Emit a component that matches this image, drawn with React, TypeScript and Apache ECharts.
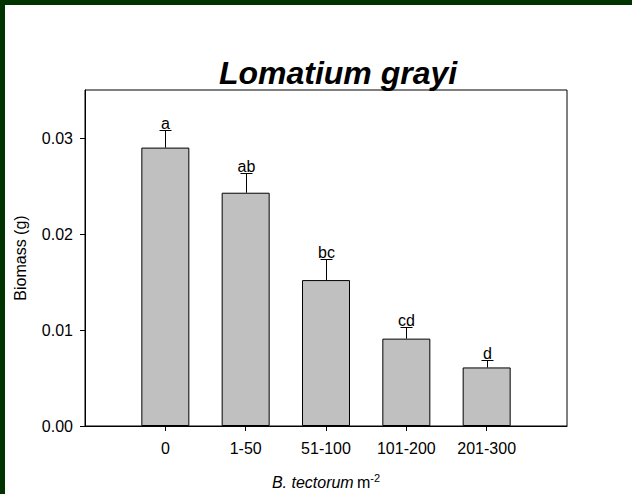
import React, { useEffect, useRef } from "react";
import * as echarts from "echarts";

const categories = [" ", "0", "1-50", "51-100", "101-200", "201-300", "  "];
const means = [0.029, 0.0243, 0.0152, 0.0091, 0.0061];
const errors = [0.0018, 0.0021, 0.0022, 0.0012, 0.0008];
const letters = ["a", "ab", "bc", "cd", "d"];
const yTicks = [0, 0.01, 0.02, 0.03];

const FONT = "Liberation Sans, Arial, sans-serif";

export default function App() {
  const ref = useRef<HTMLDivElement>(null);
  useEffect(() => {
    if (!ref.current) return;
    const chart = echarts.init(ref.current, undefined, { renderer: "svg" });
    const barData = ["-", ...means, "-"];
    const errData = means.map((m, i) => [i + 1, m, m + errors[i]]);
    chart.setOption({
      animation: false,
      backgroundColor: "#fff",
      grid: {
        left: 85,
        top: 90,
        right: 65,
        bottom: 68,
        show: true,
        borderColor: "#000",
        borderWidth: 1,
        backgroundColor: "transparent",
      },
      xAxis: {
        type: "category",
        data: categories,
        boundaryGap: false,
        axisLine: { show: true, lineStyle: { color: "#000", width: 1 } },
        axisTick: {
          show: true,
          length: 5,
          interval: (i: number, v: string) => v.trim() !== "",
          lineStyle: { color: "#000" },
        },
        axisLabel: {
          interval: 0,
          margin: 14,
          color: "#000",
          fontSize: 16,
          fontFamily: FONT,
        },
        splitLine: { show: false },
      },
      yAxis: {
        type: "value",
        min: 0,
        max: 0.035,
        interval: 0.01,
        name: "Biomass (g)",
        nameLocation: "middle",
        nameGap: 57,
        nameTextStyle: { color: "#000", fontSize: 16, fontFamily: FONT },
        axisLine: { show: true, lineStyle: { color: "#000", width: 1 } },
        axisTick: {
          show: true,
          length: 5,
          customValues: yTicks,
          lineStyle: { color: "#000" },
        },
        axisLabel: {
          customValues: yTicks,
          margin: 12,
          color: "#000",
          fontSize: 16,
          fontFamily: FONT,
          formatter: (v: number) => v.toFixed(2),
        },
        splitLine: { show: false },
      },
      graphic: [
        { type: "rect", shape: { x: 0, y: 0, width: 632, height: 5 }, style: { fill: "#003300" } },
        { type: "rect", shape: { x: 0, y: 0, width: 5, height: 494 }, style: { fill: "#003300" } },
        {
          type: "text",
          x: 338,
          y: 73,
          style: {
            text: "Lomatium grayi",
            font: `italic bold 32px ${FONT}`,
            fill: "#000",
            textAlign: "center",
            textVerticalAlign: "middle",
          },
        },
        {
          type: "text",
          x: 326,
          y: 482,
          style: {
            text: "{it|B. tectorum} {n|m}{sup|-2}",
            textAlign: "center",
            textVerticalAlign: "middle",
            fill: "#000",
            rich: {
              it: { fontStyle: "italic", fontSize: 16, fontFamily: FONT, fill: "#000", lineHeight: 20 },
              n: { fontSize: 16, fontFamily: FONT, fill: "#000", lineHeight: 20 },
              sup: { fontSize: 11, fontFamily: FONT, fill: "#000", verticalAlign: "top", lineHeight: 20, padding: [0, 0, 9, 0] },
            },
          },
        },
      ],
      series: [
        {
          type: "bar",
          data: barData,
          barWidth: 48,
          itemStyle: { color: "#c0c0c0", borderColor: "#000", borderWidth: 1 },
          z: 2,
        },
        {
          type: "custom",
          data: errData,
          z: 3,
          renderItem: (params: any, api: any) => {
            const x = api.value(0);
            const m = api.value(1);
            const up = api.value(2);
            const pM = api.coord([x, m]);
            const pU = api.coord([x, up]);
            const cx = Math.round(pM[0]) + 0.5;
            const ty = Math.round(pU[1]) + 0.5;
            return {
              type: "group",
              children: [
                { type: "line", shape: { x1: cx, y1: pM[1], x2: cx, y2: ty }, style: { stroke: "#000", lineWidth: 1 } },
                { type: "line", shape: { x1: cx - 6, y1: ty, x2: cx + 6, y2: ty }, style: { stroke: "#000", lineWidth: 1 } },
                {
                  type: "text",
                  x: cx,
                  y: ty + 1,
                  style: {
                    text: letters[params.dataIndex],
                    textAlign: "center",
                    textVerticalAlign: "bottom",
                    font: `16px ${FONT}`,
                    fill: "#000",
                  },
                },
              ],
            };
          },
        },
      ],
    });
    return () => chart.dispose();
  }, []);
  return (
    <div
      ref={ref}
      style={{ position: "fixed", left: 0, top: 0, width: 632, height: 494, background: "#fff" }}
    />
  );
}
